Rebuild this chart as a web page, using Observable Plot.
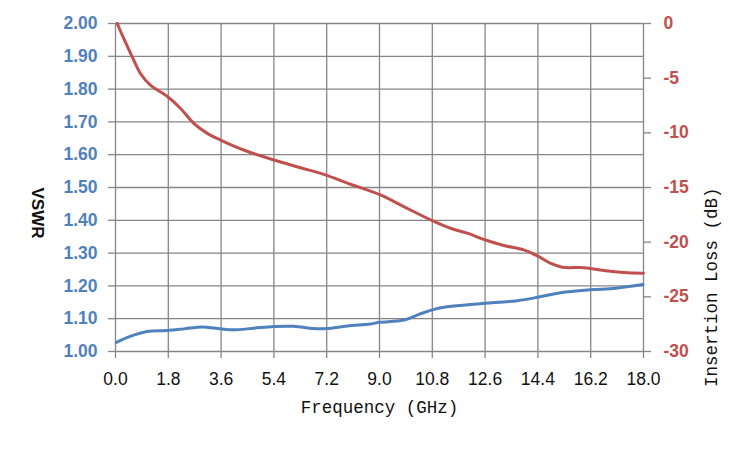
<!DOCTYPE html>
<html>
<head>
<meta charset="utf-8">
<script src="https://cdn.jsdelivr.net/npm/d3@7"></script>
<script src="https://cdn.jsdelivr.net/npm/@observablehq/plot@0.6"></script>
<style>
  html, body { margin: 0; padding: 0; background: #fff; }
</style>
</head>
<body>
<div id="chart"></div>
<script>
// VSWR series (left axis)
const vswrFreq = [0.03, 0.5, 1.08, 1.76, 2.33, 2.95, 3.58, 4.03, 4.72, 5.4, 6.08, 6.76, 7.2, 7.9, 8.69, 9.0, 9.83, 10.4, 10.8, 11.2, 12.1, 12.6, 13.7, 14.43, 15.17, 16.18, 17.06, 17.98];
const vswrValues = [1.028, 1.046, 1.061, 1.064, 1.069, 1.075, 1.069, 1.066, 1.071, 1.076, 1.077, 1.070, 1.070, 1.078, 1.084, 1.089, 1.096, 1.115, 1.127, 1.135, 1.143, 1.147, 1.155, 1.166, 1.179, 1.188, 1.193, 1.204];

// Insertion loss series (right axis, dB)
const lossFreq = [0.06, 0.28, 0.57, 0.85, 1.19, 1.78, 2.22, 2.67, 3.13, 3.58, 4.37, 5.4, 6.31, 7.1, 8.01, 9.03, 9.83, 10.8, 11.42, 11.99, 12.61, 13.24, 13.92, 14.38, 14.83, 15.23, 15.97, 16.65, 17.33, 18.0];
const lossValues = [0, -1.37, -3.05, -4.57, -5.64, -6.7, -7.77, -9.13, -10.05, -10.66, -11.57, -12.49, -13.19, -13.8, -14.7, -15.68, -16.75, -18.03, -18.73, -19.18, -19.8, -20.3, -20.71, -21.26, -21.93, -22.3, -22.33, -22.6, -22.78, -22.84];

// Tick labels
const xTicks = [0, 1.8, 3.6, 5.4, 7.2, 9.0, 10.8, 12.6, 14.4, 16.2, 18.0];
const vswrTicks = [1.0, 1.1, 1.2, 1.3, 1.4, 1.5, 1.6, 1.7, 1.8, 1.9, 2.0];
const lossTicks = [0, -5, -10, -15, -20, -25, -30];

const vswrDomain = [1, 2];
const lossDomain = [-30, 0];
// map loss (dB) onto the shared VSWR y scale
const lossToY = d => vswrDomain[0] + (d - lossDomain[0]) / (lossDomain[1] - lossDomain[0]) * (vswrDomain[1] - vswrDomain[0]);
const yToLoss = v => lossDomain[0] + (v - vswrDomain[0]) / (vswrDomain[1] - vswrDomain[0]) * (lossDomain[1] - lossDomain[0]);

const vswrData = vswrFreq.map((f, i) => ({f, v: vswrValues[i]}));
const lossData = lossFreq.map((f, i) => ({f, v: lossToY(lossValues[i])}));

const blue = "#4F81BD";
const red = "#C0504D";
const grid = "#868686";

const chart = Plot.plot({
  width: 750,
  height: 450,
  marginLeft: 115,
  marginRight: 107,
  marginTop: 23,
  marginBottom: 99,
  style: {fontFamily: "'Liberation Sans', Arial, sans-serif", background: "#fff"},
  x: {domain: [0, 18]},
  y: {domain: vswrDomain},
  marks: [
    Plot.gridX(xTicks, {stroke: grid, strokeOpacity: 1, strokeWidth: 1.3}),
    Plot.gridY(vswrTicks, {stroke: grid, strokeOpacity: 1, strokeWidth: 1.3}),
    Plot.axisX(xTicks, {
      tickSize: 7, tickPadding: 14, stroke: grid, strokeWidth: 1.3, fill: "#111",
      fontSize: 17.5, tickFormat: d => d.toFixed(1), label: null
    }),
    Plot.axisY(vswrTicks, {
      anchor: "left", tickSize: 7, tickPadding: 11, stroke: grid, strokeWidth: 1.3, fill: blue,
      fontSize: 17.5, fontWeight: "bold", tickFormat: d => d.toFixed(2), label: null
    }),
    Plot.axisY(lossTicks.map(lossToY), {
      anchor: "right", tickSize: 7, tickPadding: 13, stroke: grid, strokeWidth: 1.3, fill: red,
      fontSize: 17.5, fontWeight: "bold", tickFormat: d => String(Math.round(yToLoss(d))), label: null
    }),
    Plot.line(lossData, {x: "f", y: "v", stroke: red, strokeWidth: 3, curve: "catmull-rom"}),
    Plot.line(vswrData, {x: "f", y: "v", stroke: blue, strokeWidth: 3, curve: "catmull-rom"}),
    Plot.text(["Frequency (GHz)"], {
      frameAnchor: "bottom", dy: 61, fontFamily: "'Liberation Mono', monospace",
      fontSize: 17.5, fill: "#111"
    }),
    Plot.text(["VSWR"], {
      frameAnchor: "left", dx: -78, rotate: 90, fontWeight: "bold",
      fontSize: 17, fill: "#111"
    }),
    Plot.text(["Insertion Loss (dB)"], {
      frameAnchor: "right", dx: 68, rotate: -90, fontFamily: "'Liberation Mono', monospace",
      fontSize: 17.5, fill: "#111"
    })
  ]
});
document.getElementById("chart").appendChild(chart);
</script>
</body>
</html>
